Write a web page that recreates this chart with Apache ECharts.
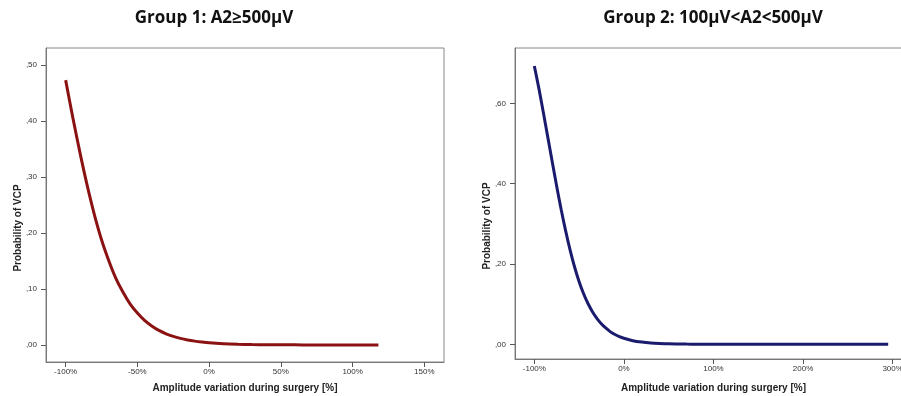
<!DOCTYPE html>
<html>
<head>
<meta charset="utf-8">
<script src="https://cdn.jsdelivr.net/npm/echarts@6/dist/echarts.min.js"></script>
<style>
html, body { margin: 0; padding: 0; background: #fff; }
#main { width: 901px; height: 396px; }
</style>
</head>
<body>
<div id="main"></div>
<script>
// group 1 : A2 >= 500uV  (amplitude variation %, probability)
const xGroup1 = [-100, -95, -90, -85, -80, -75, -70, -65, -60, -55, -50, -45, -40, -35, -30, -25, -20, -15, -10, -5, 0, 10, 20, 30, 40, 50, 60, 70, 80, 90, 100, 110, 118];
const pGroup1 = [0.473, 0.406, 0.343, 0.285, 0.233, 0.188, 0.151, 0.119, 0.094, 0.073, 0.057, 0.044, 0.034, 0.026, 0.020, 0.0154, 0.0118, 0.009, 0.0069, 0.0053, 0.004, 0.0024, 0.0014, 0.0008, 0.0005, 0.0003, 0.0002, 0.0001, 0.0001, 0.0001, 0, 0, 0];

// group 2 : 100uV < A2 < 500uV
const xGroup2 = [-100, -95, -90, -85, -80, -75, -70, -65, -60, -55, -50, -45, -40, -35, -30, -25, -20, -15, -10, -5, 0, 10, 20, 30, 40, 50, 60, 70, 80, 100, 150, 200, 250, 295];
const pGroup2 = [0.693, 0.638, 0.578, 0.516, 0.454, 0.393, 0.335, 0.282, 0.234, 0.192, 0.156, 0.126, 0.101, 0.0805, 0.064, 0.0505, 0.040, 0.031, 0.0245, 0.019, 0.015, 0.009, 0.0056, 0.0034, 0.0021, 0.0012, 0.0008, 0.0005, 0.0003, 0.0001, 0, 0, 0, 0];

const xTicks1 = [-100, -50, 0, 50, 100, 150];
const yTicks1 = [0, 0.1, 0.2, 0.3, 0.4, 0.5];
const xTicks2 = [-100, 0, 100, 200, 300];
const yTicks2 = [0, 0.2, 0.4, 0.6];

const titles = ["Group 1: A2≥500μV", "Group 2: 100μV<A2<500μV"];
const xName = "Amplitude variation during surgery [%]";
const yName = "Probability of VCP";

const myChart = echarts.init(document.getElementById("main"));

const commaFmt = (v) => v.toFixed(2).replace(/^0/, "").replace(".", ",");
const pctFmt = (v) => v + "%";

function xAxisOf(idx, min, max, ticks, gap) {
    return {
        type: "value",
        gridIndex: idx,
        min: min,
        max: max,
        name: xName,
        nameLocation: "middle",
        nameGap: gap,
        nameTextStyle: { fontFamily: "Liberation Sans", fontWeight: "bold", fontSize: 10, color: "#222" },
        splitLine: { show: false },
        axisLine: { show: true, onZero: false, lineStyle: { color: "#777", width: 1 } },
        axisTick: { show: true, length: 5, customValues: ticks, lineStyle: { color: "#555" } },
        axisLabel: { customValues: ticks, formatter: pctFmt, fontSize: 8, color: "#333", fontFamily: "Liberation Sans", margin: 6 },
    };
}

function yAxisOf(idx, min, max, ticks) {
    return {
        type: "value",
        gridIndex: idx,
        min: min,
        max: max,
        splitLine: { show: false },
        axisLine: { show: true, onZero: false, lineStyle: { color: "#777", width: 1 } },
        axisTick: { show: true, length: 5, customValues: ticks, lineStyle: { color: "#555" } },
        axisLabel: { customValues: ticks, formatter: commaFmt, fontSize: 8, color: "#333", fontFamily: "Liberation Sans", margin: 9 },
    };
}

function yTitle(x, y) {
    return {
        type: "text", x: x, y: y, rotation: Math.PI / 2,
        style: { text: yName, align: "center", verticalAlign: "middle", font: "bold 10px 'Liberation Sans'", fill: "#222" },
    };
}

let option = {
    backgroundColor: "#fff",
    animation: false,
    graphic: [
        { type: "text", x: 214, y: 18, style: { text: titles[0], align: "center", verticalAlign: "middle", font: "bold 17px 'Open Sans'", fill: "#111" } },
        { type: "text", x: 713, y: 18, style: { text: titles[1], align: "center", verticalAlign: "middle", font: "bold 17px 'Open Sans'", fill: "#111" } },
        yTitle(18, 228),
        yTitle(487, 226),
    ],
    grid: [
        { left: 46, top: 48, width: 398, height: 314, show: true, borderColor: "#888", borderWidth: 1, outerBoundsMode: "none" },
        { left: 515, top: 48, width: 397, height: 311, show: true, borderColor: "#888", borderWidth: 1, outerBoundsMode: "none" },
    ],
    xAxis: [
        xAxisOf(0, -113.7, 163.7, xTicks1, 21),
        xAxisOf(1, -121.6, 321.6, xTicks2, 24),
    ],
    yAxis: [
        yAxisOf(0, -0.0304, 0.5304, yTicks1),
        yAxisOf(1, -0.0366, 0.738, yTicks2),
    ],
    series: [
        {
            type: "line",
            xAxisIndex: 0,
            yAxisIndex: 0,
            data: xGroup1.map((x, i) => [x, pGroup1[i]]),
            smooth: 0.3,
            showSymbol: false,
            lineStyle: { color: "#8b1212", width: 3 },
        },
        {
            type: "line",
            xAxisIndex: 1,
            yAxisIndex: 1,
            data: xGroup2.map((x, i) => [x, pGroup2[i]]),
            smooth: 0.3,
            showSymbol: false,
            lineStyle: { color: "#1b1b6e", width: 3 },
        },
    ],
};
myChart.setOption(option);
</script>
</body>
</html>
